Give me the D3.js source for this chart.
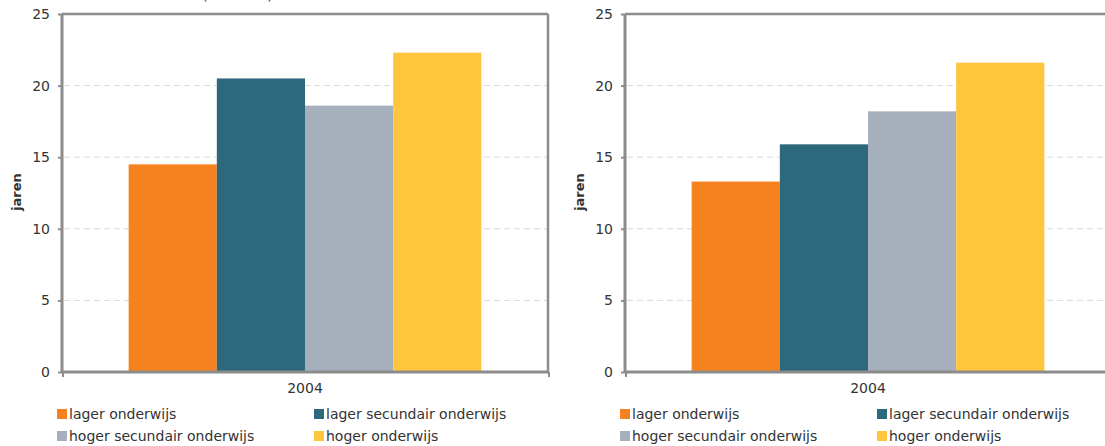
<!DOCTYPE html>
<html><head><meta charset="utf-8">
<script src="https://cdn.jsdelivr.net/npm/d3@7"></script>
<style>body{margin:0;background:#fff;} svg{display:block;}</style>
</head><body>
<svg id="c" width="1105" height="446"></svg>
<script>
const years = ["2004"];
const series = ["lager onderwijs","lager secundair onderwijs","hoger secundair onderwijs","hoger onderwijs"];
const colors = ["#F5821F","#2D687D","#A6B0BD","#FFC53C"];
const leftValues = [14.5, 20.5, 18.6, 22.3];
const rightValues = [13.3, 15.9, 18.2, 21.6];
const yTicks = [0,5,10,15,20,25];
const yLabel = "jaren";
const leftTitle = "(mannen)";

const svg = d3.select("#c");
const font = "DejaVu Sans, sans-serif";
const fs = 14;

function chart(left, values, title){
  const top = 14, bottom = 372, w = 486;
  const g = svg.append("g").attr("transform", `translate(${left},0)`);
  const y = d3.scaleLinear().domain([0,25]).range([bottom, top]);
  const x0 = d3.scaleBand().domain(years).range([0,w]).paddingInner(0).paddingOuter(0.189);
  const x1 = d3.scaleBand().domain(series).range([0,x0.bandwidth()]).padding(0);

  if (title) {
    g.append("text").attr("x", (202-left)).attr("y", 0).attr("font-family", font)
      .attr("font-size", 14.5).attr("fill","#333").text(title);
  }
  // grid
  g.append("g").selectAll("line").data(yTicks.filter(t=>t>0 && t<25)).join("line")
    .attr("x1",2).attr("x2",w).attr("y1",d=>y(d)).attr("y2",d=>y(d))
    .attr("stroke","#d9d9d9").attr("stroke-width",1).attr("stroke-dasharray","6,4");
  // bars
  g.append("g").selectAll("g").data(years).join("g")
    .attr("transform", d=>`translate(${x0(d)},0)`)
    .selectAll("rect").data(series.map((s,i)=>({s, v: values[i], c: colors[i]}))).join("rect")
    .attr("x", d=>x1(d.s)).attr("width", x1.bandwidth())
    .attr("y", d=>y(d.v)).attr("height", d=>y(0)-y(d.v)).attr("fill", d=>d.c);
  // frame
  g.append("line").attr("x1",0).attr("x2",w).attr("y1",top).attr("y2",top).attr("stroke","#8c8c8c").attr("stroke-width",2.5);
  g.append("line").attr("x1",w).attr("x2",w).attr("y1",top).attr("y2",bottom).attr("stroke","#8c8c8c").attr("stroke-width",2.5);
  // y axis
  const ya = d3.axisLeft(y).tickValues(yTicks).tickSize(4).tickPadding(8);
  const yg = g.append("g").call(ya);
  yg.select(".domain").attr("stroke","#8c8c8c").attr("stroke-width",3).attr("d", `M0,${top}V${bottom}`);
  yg.selectAll(".tick line").attr("stroke","#8c8c8c").attr("stroke-width",2);
  yg.selectAll("text").attr("font-family",font).attr("font-size",fs).attr("fill","#333");
  // x axis
  const xa = d3.axisBottom(x0).tickSize(0).tickPadding(11);
  const xg = g.append("g").attr("transform",`translate(0,${bottom})`).call(xa);
  xg.select(".domain").attr("stroke","#8c8c8c").attr("stroke-width",3).attr("d", `M0,0H${w}`);
  xg.selectAll("text").attr("font-family",font).attr("font-size",fs).attr("fill","#333");
  [0,w].forEach(px=>g.append("line").attr("x1",px+1).attr("x2",px+1).attr("y1",bottom).attr("y2",bottom+5).attr("stroke","#8c8c8c").attr("stroke-width",2));
  // y label
  g.append("text").attr("transform",`translate(${-46},192) rotate(-90)`).attr("text-anchor","middle")
    .attr("dominant-baseline","central").attr("font-family",font).attr("font-size",13).attr("font-weight","bold").attr("fill","#333").text(yLabel);
  // legend
  const lg = g.append("g");
  series.forEach((s,i)=>{
    const lx = (i%2===0) ? -5 : 252;
    const ly = 414 + Math.floor(i/2)*22;
    lg.append("rect").attr("x",lx).attr("y",ly-5).attr("width",10).attr("height",10).attr("fill",colors[i]);
    lg.append("text").attr("x",lx+12).attr("y",ly).attr("dominant-baseline","central")
      .attr("font-family",font).attr("font-size",fs).attr("fill","#333").text(s);
  });
}
chart(62, leftValues, leftTitle);
chart(625, rightValues, null);
</script>
</body></html>
